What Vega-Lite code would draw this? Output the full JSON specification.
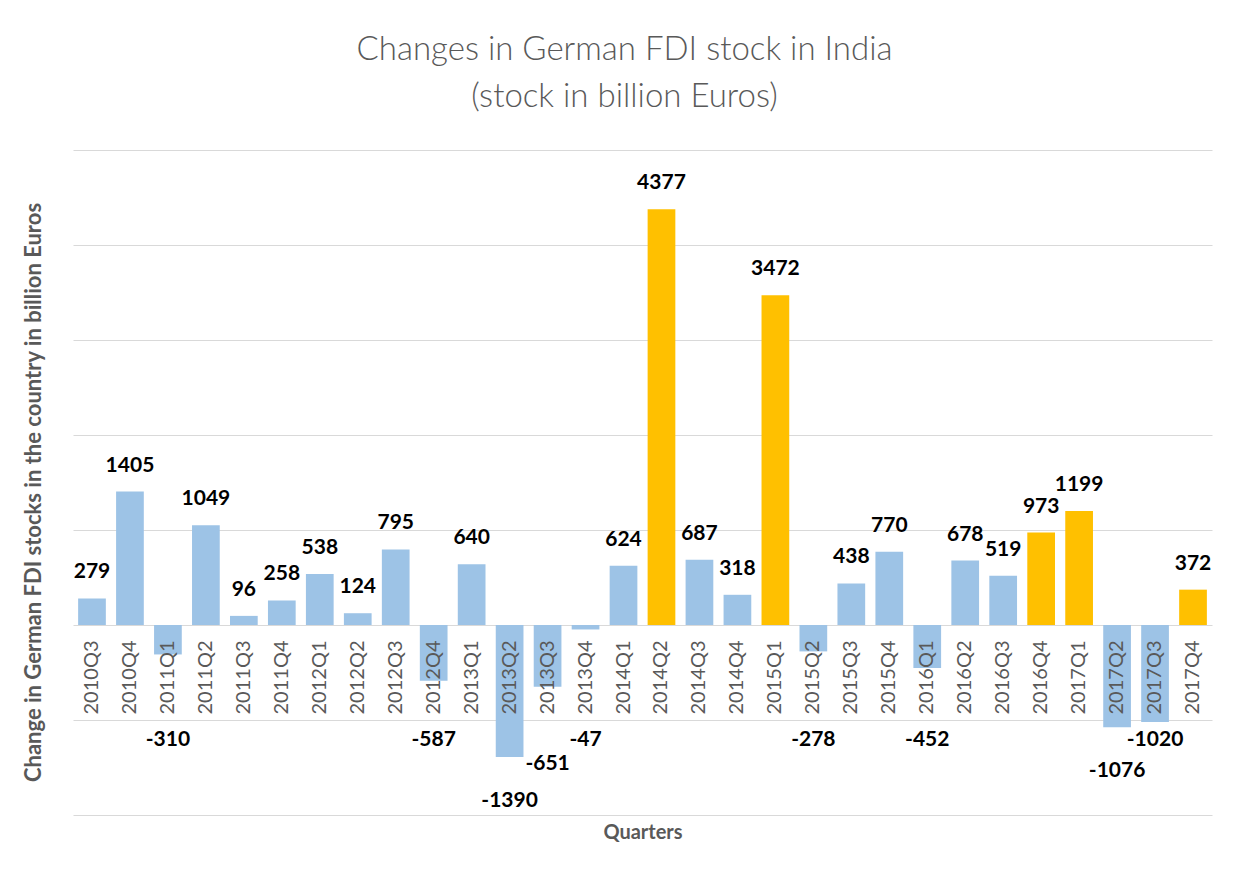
{
  "$schema": "https://vega.github.io/schema/vega-lite/v6.json",
  "width": 1139,
  "height": 665,
  "autosize": {"type": "none"},
  "padding": {"left": 73, "top": 150, "right": 26, "bottom": 60},
  "background": "white",
  "config": {"view": {"stroke": null}},
  "title": {
    "text": ["Changes in German FDI stock in India", "(stock in billion Euros)"],
    "font": "Lato",
    "fontSize": 33,
    "fontWeight": 300,
    "color": "#595959",
    "lineHeight": 47,
    "anchor": "middle",
    "offset": 36,
    "dx": -18
  },
  "data": {
    "values": [
      {"quarter": "2010Q3", "value": 279, "highlight": "no"},
      {"quarter": "2010Q4", "value": 1405, "highlight": "no"},
      {"quarter": "2011Q1", "value": -310, "highlight": "no"},
      {"quarter": "2011Q2", "value": 1049, "highlight": "no"},
      {"quarter": "2011Q3", "value": 96, "highlight": "no"},
      {"quarter": "2011Q4", "value": 258, "highlight": "no"},
      {"quarter": "2012Q1", "value": 538, "highlight": "no"},
      {"quarter": "2012Q2", "value": 124, "highlight": "no"},
      {"quarter": "2012Q3", "value": 795, "highlight": "no"},
      {"quarter": "2012Q4", "value": -587, "highlight": "no"},
      {"quarter": "2013Q1", "value": 640, "highlight": "no"},
      {"quarter": "2013Q2", "value": -1390, "highlight": "no"},
      {"quarter": "2013Q3", "value": -651, "highlight": "no"},
      {"quarter": "2013Q4", "value": -47, "highlight": "no"},
      {"quarter": "2014Q1", "value": 624, "highlight": "no"},
      {"quarter": "2014Q2", "value": 4377, "highlight": "yes"},
      {"quarter": "2014Q3", "value": 687, "highlight": "no"},
      {"quarter": "2014Q4", "value": 318, "highlight": "no"},
      {"quarter": "2015Q1", "value": 3472, "highlight": "yes"},
      {"quarter": "2015Q2", "value": -278, "highlight": "no"},
      {"quarter": "2015Q3", "value": 438, "highlight": "no"},
      {"quarter": "2015Q4", "value": 770, "highlight": "no"},
      {"quarter": "2016Q1", "value": -452, "highlight": "no"},
      {"quarter": "2016Q2", "value": 678, "highlight": "no"},
      {"quarter": "2016Q3", "value": 519, "highlight": "no"},
      {"quarter": "2016Q4", "value": 973, "highlight": "yes"},
      {"quarter": "2017Q1", "value": 1199, "highlight": "yes"},
      {"quarter": "2017Q2", "value": -1076, "highlight": "no"},
      {"quarter": "2017Q3", "value": -1020, "highlight": "no"},
      {"quarter": "2017Q4", "value": 372, "highlight": "yes"}
    ]
  },
  "encoding": {
    "x": {
      "field": "quarter",
      "type": "ordinal",
      "sort": null,
      "scale": {"paddingInner": 0.27, "paddingOuter": 0.135},
      "axis": {
        "title": "Quarters",
        "titleFont": "Lato",
        "titleFontSize": 20,
        "titleFontWeight": "bold",
        "titleColor": "#595959",
        "titleY": 206,
        "titleBaseline": "middle",
        "labelAngle": -90,
        "labelFont": "Lato",
        "labelFontSize": 20,
        "labelColor": "#595959",
        "labelPadding": 14,
        "ticks": false,
        "domain": false,
        "offset": -189,
        "zindex": 1
      }
    }
  },
  "layer": [
    {
      "mark": {"type": "bar"},
      "encoding": {
        "y": {
          "field": "value",
          "type": "quantitative",
          "scale": {"domain": [-2000, 5000], "nice": false},
          "axis": {
            "title": "Change in German FDI stocks in the country in billion Euros",
            "titleFont": "Lato",
            "titleFontSize": 22,
            "titleFontWeight": "bold",
            "titleColor": "#595959",
            "titleX": -40,
            "titleY": 342,
            "titleBaseline": "middle",
            "labels": false,
            "ticks": false,
            "domain": false,
            "grid": true,
            "gridColor": "#d9d9d9",
            "gridWidth": 1.2,
            "values": [-2000, -1000, 0, 1000, 2000, 3000, 4000, 5000]
          }
        },
        "color": {
          "field": "highlight",
          "type": "nominal",
          "scale": {"domain": ["no", "yes"], "range": ["#9dc3e6", "#ffc000"]},
          "legend": null
        }
      }
    },
    {
      "transform": [{"filter": "datum.value >= 0"}],
      "mark": {"type": "text", "font": "Lato", "fontSize": 21, "fontWeight": "bold", "color": "#000000", "baseline": "middle", "dy": -26},
      "encoding": {
        "y": {"field": "value", "type": "quantitative"},
        "text": {"field": "value", "type": "nominal"}
      }
    },
    {
      "transform": [
        {"filter": "datum.value < 0"},
        {"calculate": "datum.value < -1050 ? datum.value - 250 : (datum.value < -600 && datum.value > -1000 ? datum.value - 600 : -1000)", "as": "labelAnchor"}
      ],
      "mark": {"type": "text", "font": "Lato", "fontSize": 21, "fontWeight": "bold", "color": "#000000", "baseline": "middle", "dy": 20},
      "encoding": {
        "y": {"field": "labelAnchor", "type": "quantitative"},
        "text": {"field": "value", "type": "nominal"}
      }
    }
  ]
}
